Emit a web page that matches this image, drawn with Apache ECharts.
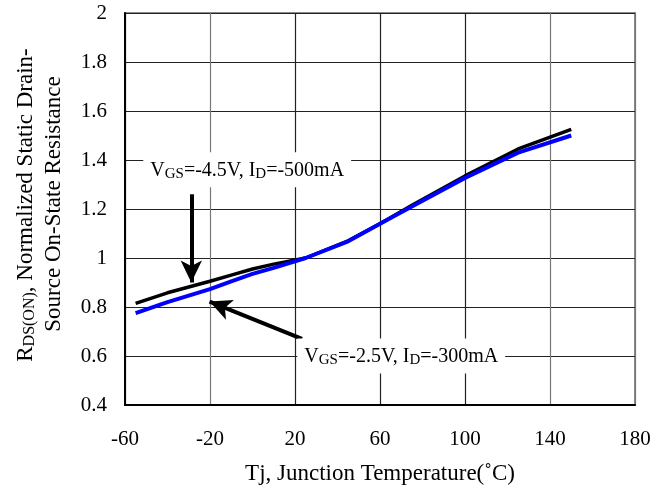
<!DOCTYPE html>
<html>
<head>
<meta charset="utf-8">
<script src="https://cdn.jsdelivr.net/npm/echarts@6/dist/echarts.min.js"></script>
<style>
  html, body { margin: 0; padding: 0; background: #fff; }
  #chart { width: 654px; height: 485px; }
</style>
</head>
<body>
<div id="chart"></div>
<script>
// Normalized on-resistance vs junction temperature
const tempVgs45 = [-55, -40, -20, -10, 0, 10, 25, 45, 60, 75, 100, 125, 150];
const rdsVgs45  = [0.815, 0.858, 0.905, 0.93, 0.955, 0.975, 1.0, 1.07, 1.14, 1.215, 1.335, 1.445, 1.525];
const tempVgs25 = [-55, -40, -20, -10, 0, 10, 25, 45, 60, 75, 100, 125, 150];
const rdsVgs25  = [0.775, 0.82, 0.873, 0.905, 0.935, 0.96, 1.0, 1.068, 1.14, 1.21, 1.327, 1.43, 1.50];

const xTicks = { min: -60, max: 180, step: 40 };
const yTicks = { min: 0.4, max: 2, step: 0.2 };

// Arrow end points (data units): [tail, head]
const arrow45 = [[-28.8, 1.26], [-28.8, 0.9]];
const arrow25 = [[23.3, 0.67], [-20.2, 0.822]];
// Annotation anchors (data units)
const label45At = [-2.5, 1.36];
const label25At = [70, 0.6];

const FONT = '"Liberation Serif", "Times New Roman", serif';

const pair = (xs, ys) => xs.map((x, i) => [x, ys[i]]);

const chart = echarts.init(document.getElementById('chart'), null, { renderer: 'canvas' });

const arrowStyle = { color: '#000', width: 4, type: 'solid' };

chart.setOption({
  animation: false,
  backgroundColor: '#fff',
  grid: {
    left: 125, right: 19, top: 13, bottom: 80,
    containLabel: false, outerBoundsMode: 'none',
    show: true, borderColor: '#8a8a8a', borderWidth: 2, backgroundColor: 'transparent'
  },
  xAxis: {
    type: 'value',
    min: xTicks.min, max: xTicks.max, interval: xTicks.step,
    axisLine: { show: true, onZero: false, lineStyle: { color: '#000', width: 2 } },
    axisTick: { show: false },
    axisLabel: { color: '#000', fontFamily: FONT, fontSize: 21, margin: 24 },
    splitLine: {
      show: true,
      lineStyle: { color: ['#000', '#777', '#222', '#222', '#222', '#777', '#777'], width: 1.2 }
    },
    name: 'Tj, Junction Temperature(˚C)',
    nameLocation: 'middle', nameGap: 57,
    nameTextStyle: { color: '#000', fontFamily: FONT, fontSize: 23 }
  },
  yAxis: {
    type: 'value',
    min: yTicks.min, max: yTicks.max, interval: yTicks.step,
    axisLine: { show: true, onZero: false, lineStyle: { color: '#000', width: 2 } },
    axisTick: { show: false },
    axisLabel: {
      color: '#000', fontFamily: FONT, fontSize: 21, margin: 18,
      formatter: v => String(+v.toFixed(1))
    },
    splitLine: { show: true, lineStyle: { color: '#222', width: 1.2 } }
  },
  series: [
    {
      name: 'VGS=-4.5V',
      type: 'line',
      data: pair(tempVgs45, rdsVgs45),
      showSymbol: false,
      smooth: false,
      lineStyle: { color: '#000', width: 3.5 },
      z: 2,
      markLine: {
        silent: true,
        symbol: ['none', 'arrow'],
        symbolSize: [16, 22],
        label: { show: false },
        lineStyle: arrowStyle,
        data: [
          [{ coord: arrow45[0] }, { coord: arrow45[1] }],
          [{ coord: arrow25[0] }, { coord: arrow25[1] }]
        ]
      }
    },
    {
      name: 'VGS=-2.5V',
      type: 'line',
      data: pair(tempVgs25, rdsVgs25),
      showSymbol: false,
      smooth: false,
      lineStyle: { color: '#0000ff', width: 4 },
      z: 3
    }
  ]
});

// Annotation text with subscripts, placed from data coordinates
function noteText(main1, sub1, mid, sub2, tail) {
  return `{n|${main1}}{s|${sub1}}{n|${mid}}{s|${sub2}}{n|${tail}}`;
}
const rich = {
  n: { fontFamily: FONT, fontSize: 20, color: '#000' },
  s: { fontFamily: FONT, fontSize: 15, color: '#000', verticalAlign: 'bottom', padding: [6, 0, 0, 0] }
};
const p45 = chart.convertToPixel({ gridIndex: 0 }, label45At);
const p25 = chart.convertToPixel({ gridIndex: 0 }, label25At);

chart.setOption({
  graphic: [
    {
      type: 'text', x: p45[0], y: p45[1], z: 10,
      style: {
        text: noteText('V', 'GS', '=-4.5V, I', 'D', '=-500mA'),
        rich, align: 'center', verticalAlign: 'middle',
        backgroundColor: '#fff', padding: [8, 7, 6, 7]
      }
    },
    {
      type: 'text', x: p25[0], y: p25[1], z: 10,
      style: {
        text: noteText('V', 'GS', '=-2.5V, I', 'D', '=-300mA'),
        rich, align: 'center', verticalAlign: 'middle',
        backgroundColor: '#fff', padding: [8, 7, 6, 7]
      }
    },
    {
      type: 'text', x: 26, y: 205, rotation: Math.PI / 2, z: 10,
      style: {
        text: '{n|R}{s|DS(ON)}{n|, Normalized Static Drain-}',
        rich: {
          n: { fontFamily: FONT, fontSize: 23, color: '#000' },
          s: { fontFamily: FONT, fontSize: 16, color: '#000', padding: [7, 0, 0, 0] }
        },
        align: 'center', verticalAlign: 'middle'
      }
    },
    {
      type: 'text', x: 54, y: 204, rotation: Math.PI / 2, z: 10,
      style: {
        text: 'Source On-State Resistance',
        fontFamily: FONT, fontSize: 23, fill: '#000',
        align: 'center', verticalAlign: 'middle'
      }
    }
  ]
});
</script>
</body>
</html>
